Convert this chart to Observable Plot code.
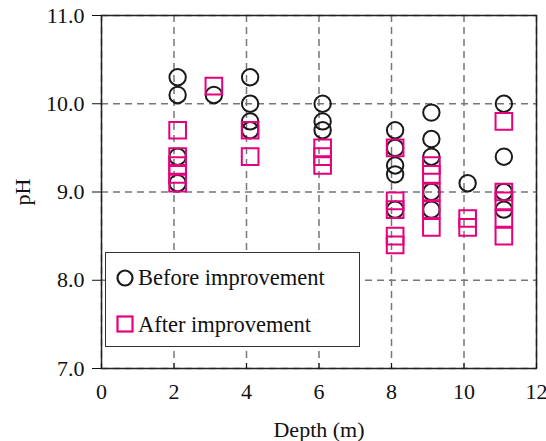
<!DOCTYPE html>
<html><head><meta charset="utf-8">
<script src="https://cdn.jsdelivr.net/npm/d3@7"></script>
<script src="https://cdn.jsdelivr.net/npm/@observablehq/plot@0.6"></script>
<style>
body{margin:0;background:#fff;}
#wrap{position:relative;width:546px;height:441px;}
#wrap svg, #wrap svg g, #wrap svg text{font-family:"Liberation Serif","Times New Roman",serif !important;}
#legend{position:absolute;left:105px;top:252px;width:253px;height:93px;border:1.2px solid #333;background:#fff;}
</style></head><body><div id="wrap"></div>
<script>
// Before improvement (circles)
const beforeDepth = [2.1,2.1,2.1,2.1, 3.1, 4.1,4.1,4.1,4.1, 6.1,6.1,6.1, 8.1,8.1,8.1,8.1,8.1, 9.1,9.1,9.1,9.1,9.1, 10.1, 11.1,11.1,11.1,11.1];
const beforePH    = [10.3,10.1,9.4,9.1, 10.1, 10.3,10.0,9.8,9.7, 10.0,9.8,9.7, 9.7,9.5,9.3,9.2,8.8, 9.9,9.6,9.4,9.0,8.8, 9.1, 10.0,9.4,9.0,8.8];
// After improvement (squares)
const afterDepth = [2.1,2.1,2.1,2.1,2.1, 3.1, 4.1,4.1, 6.1,6.1,6.1, 8.1,8.1,8.1,8.1,8.1, 9.1,9.1,9.1,9.1,9.1, 10.1,10.1, 11.1,11.1,11.1,11.1,11.1];
const afterPH    = [9.7,9.4,9.3,9.2,9.1, 10.2, 9.7,9.4, 9.5,9.4,9.3, 9.5,8.9,8.8,8.5,8.4, 9.3,9.2,9.0,8.8,8.6, 8.7,8.6, 9.8,9.0,8.9,8.7,8.5];
const xTicks = [0,2,4,6,8,10,12];
const yTicks = [7,8,9,10,11];
const seriesNames = ["Before improvement","After improvement"];
const colors = {before:"#1a1a1a", after:"#e5007e"};

const before = beforeDepth.map((d,i)=>({depth:d, ph:beforePH[i]}));
const after = afterDepth.map((d,i)=>({depth:d, ph:afterPH[i]}));

const serif = "Liberation Serif";
const gridStyle = {stroke:"#777", strokeOpacity:1, strokeDasharray:"7,5", strokeWidth:1.5};
const chart = Plot.plot({
  width:546, height:441,
  marginLeft:101, marginRight:10, marginTop:15, marginBottom:73,
  style:{fontFamily:serif, fontSize:"22px", color:"#111", background:"white"},
  x:{domain:[0,12]},
  y:{domain:[7,11]},
  marks:[
    Plot.gridX(xTicks, gridStyle),
    Plot.gridY(yTicks, gridStyle),
    Plot.frame({stroke:"#222", strokeWidth:1.5}),
    Plot.axisX(xTicks, {tickSize:-5, tickPadding:20, fontFamily:serif, fontSize:22, label:"Depth (m)", labelAnchor:"center", labelOffset:68, labelArrow:"none"}),
    Plot.axisY(yTicks, {tickSize:9, tickPadding:8, fontFamily:serif, fontSize:22, tickFormat:d3.format(".1f"), label:"pH", labelAnchor:"center", labelOffset:87, labelArrow:"none"}),
    Plot.dot(before, {x:"depth", y:"ph", r:8.2, symbol:"circle", stroke:colors.before, strokeWidth:2, fill:"none"}),
    Plot.dot(after, {x:"depth", y:"ph", r:9.4, symbol:"square", stroke:colors.after, strokeWidth:2, fill:"none"})
  ]
});
const wrap = document.getElementById("wrap");
wrap.appendChild(chart);

const legend = document.createElement("div");
legend.id = "legend";
legend.innerHTML = `<svg width="253" height="93" style="font-family:'Liberation Serif',serif;font-size:22.5px">
<circle cx="19" cy="25" r="7.5" fill="none" stroke="${colors.before}" stroke-width="2.2"/>
<text x="32" y="32" fill="#111">${seriesNames[0]}</text>
<rect x="11.5" y="63.5" width="15" height="15" fill="none" stroke="${colors.after}" stroke-width="2.2"/>
<text x="32" y="79" fill="#111">${seriesNames[1]}</text>
</svg>`;
wrap.appendChild(legend);
</script>
</body></html>
